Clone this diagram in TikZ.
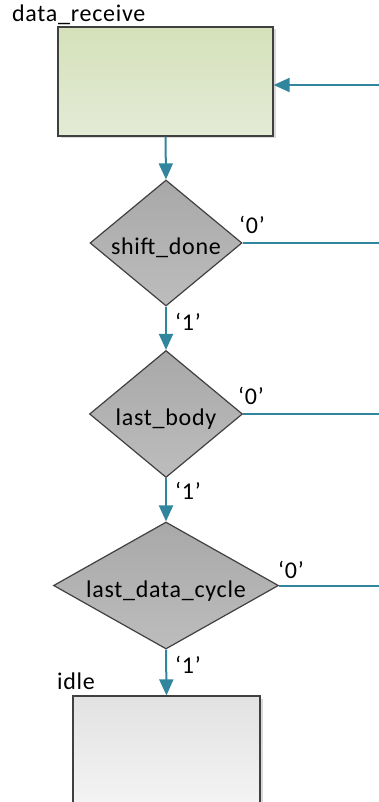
\documentclass[tikz,border=0pt]{standalone}
\usepackage{fontspec}
\setmainfont{Carlito}[LetterSpace=3]
\usetikzlibrary{arrows.meta,shapes.geometric,shadows}
\definecolor{flow}{HTML}{31859C}
\definecolor{edge}{HTML}{404040}
\tikzset{
  txt/.style={font=\fontsize{24}{28}\selectfont, inner sep=0pt, text=black},
  statebox/.style={draw=edge, line width=1.3pt, rectangle, inner sep=0pt,
    drop shadow={shadow xshift=2.5pt, shadow yshift=-2.5pt, opacity=0.15, fill=black}},
  decision/.style={draw=edge, line width=1.2pt, diamond, inner sep=0pt,
    top color=gray!68, bottom color=gray!52},
  flowline/.style={draw=flow, line width=2pt},
  flowarrow/.style={flowline, -{Triangle[length=16pt,width=14pt]}},
}
\begin{document}
\begin{tikzpicture}[x=1pt,y=-1pt]
\useasboundingbox (0,0) rectangle (379,802);
\clip (0,0) rectangle (379,802);

% states
\node[statebox, minimum width=215pt, minimum height=109pt,
      top color={rgb,255:red,213;green,225;blue,186},
      bottom color={rgb,255:red,228;green,235;blue,214}] (recv) at (165.5,81.5) {};
\node[txt, anchor=base west] (recvlbl) at (12,22) {data\_receive};

\node[statebox, minimum width=187pt, minimum height=160pt,
      top color={rgb,255:red,226;green,226;blue,226},
      bottom color={rgb,255:red,252;green,252;blue,252}] (idle) at (166.5,776) {};
\node[txt, anchor=base west] (idlelbl) at (57,689) {idle};

% decisions
\node[decision, minimum width=152pt, minimum height=126pt] (d1) at (166,243) {};
\node[txt] (d1t) at (166,248) {shift\_done};
\node[decision, minimum width=153pt, minimum height=127pt] (d2) at (166,414) {};
\node[txt] (d2t) at (166,419) {last\_body};
\node[decision, minimum width=225pt, minimum height=127pt] (d3) at (166,585.5) {};
\node[txt] (d3t) at (166,591) {last\_data\_cycle};

% loop-back ends at the right border
\coordinate (in1) at (379,85);
\coordinate (out1) at (379,243);
\coordinate (out2) at (379,414);
\coordinate (out3) at (379,585.5);

% connectors
\draw[flowarrow] (in1) -- (in1 -| recv.east);
\draw[flowarrow] (recv.south) -- (d1.north);
\draw[flowarrow] (d1.south) -- (d2.north);
\draw[flowarrow] (d2.south) -- (d3.north);
\draw[flowarrow] (d3.south) -- (idle.north);
\draw[flowline] (d1.east) -- (out1);
\draw[flowline] (d2.east) -- (out2);
\draw[flowline] (d3.east) -- (out3);

% branch values
\node[txt] (z1) at (252,225) {‘0’};
\node[txt] (z2) at (251,396) {‘0’};
\node[txt] (z3) at (291,570) {‘0’};
\node[txt] (o1) at (188,322) {‘1’};
\node[txt] (o2) at (188,491) {‘1’};
\node[txt] (o3) at (188,665) {‘1’};
\end{tikzpicture}
\end{document}
